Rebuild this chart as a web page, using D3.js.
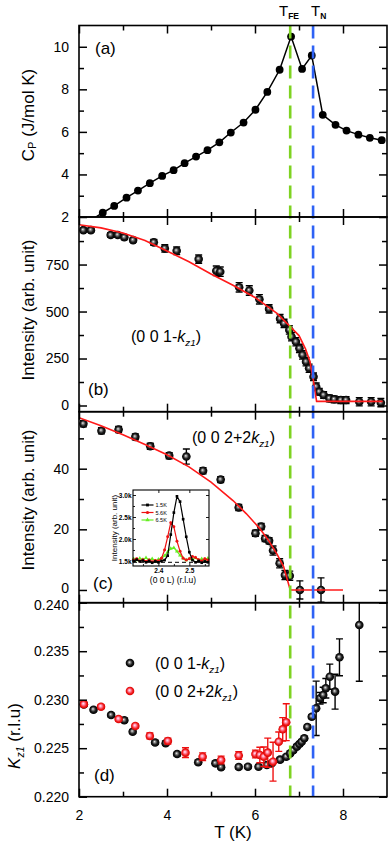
<!DOCTYPE html>
<html>
<head>
<meta charset="utf-8">
<script src="https://cdn.jsdelivr.net/npm/d3@7"></script>
<style>
  body { margin: 0; background: #fff; }
  svg { display: block; font-family: "Liberation Sans", Arial, sans-serif; }
</style>
</head>
<body>
<svg id="chart" width="388" height="844"></svg>
<script>
// ---- data ----
// (a) heat capacity
const cpT = [2.26, 2.54, 2.80, 3.08, 3.34, 3.61, 3.89, 4.15, 4.40, 4.66, 4.92, 5.19, 5.45, 5.74, 6.01, 6.28, 6.56, 6.82, 7.07, 7.29, 7.54, 7.83, 8.08, 8.35, 8.61, 8.88];
const cpVal = [1.84, 2.20, 2.52, 2.91, 3.24, 3.59, 3.93, 4.20, 4.53, 4.84, 5.14, 5.51, 5.97, 6.44, 7.04, 7.88, 8.92, 10.48, 8.96, 9.59, 6.80, 6.33, 6.06, 5.87, 5.72, 5.61];

// (b) (0 0 1-kz1) intensity
const bT = [2.10, 2.27, 2.72, 2.88, 3.03, 3.23, 3.70, 3.95, 4.22, 4.72, 5.12, 5.21, 5.64, 5.87, 6.10, 6.32, 6.57, 6.66, 6.78, 6.83, 6.93, 7.01, 7.08, 7.16, 7.23, 7.33, 7.39, 7.46, 7.56, 7.69, 7.80, 7.95, 8.07, 8.37, 8.64, 8.86];
const bI = [933, 933, 907, 907, 895, 880, 868, 836, 823, 779, 717, 712, 629, 612, 565, 514, 462, 437, 402, 366, 339, 304, 269, 233, 198, 153, 100, 73, 56, 38, 33, 29, 29, 20, 20, 15];
const bErr = [10, 10, 12, 12, 12, 12, 15, 20, 20, 22, 25, 25, 25, 25, 25, 22, 22, 22, 22, 22, 22, 22, 22, 22, 22, 20, 20, 18, 18, 18, 18, 18, 18, 22, 22, 22];
const bFitT = [2.0, 2.5, 3.0, 3.5, 4.0, 4.5, 5.0, 5.5, 6.0, 6.5, 6.8, 7.0, 7.15, 7.25, 7.33, 7.40, 8.9];
const bFitI = [962, 945, 918, 878, 822, 765, 700, 640, 575, 490, 420, 372, 300, 233, 130, 22, 22];

// (c) (0 0 2+2kz1) intensity
const cT = [2.10, 2.51, 2.90, 3.28, 3.62, 4.05, 4.44, 4.82, 5.22, 5.63, 6.01, 6.14, 6.23, 6.32, 6.41, 6.56, 6.68, 6.79, 7.02, 7.50];
const cI = [54.8, 52.5, 52.9, 50.5, 47.4, 44.3, 44.0, 39.3, 36.4, 27.2, 18.7, 20.9, 17.0, 16.2, 13.0, 8.8, 4.9, 4.7, 0, 0];
const cErr = [1, 1, 1, 1, 1, 1, 2.5, 1, 1, 1, 1, 1, 1, 1, 1.5, 1.5, 1.5, 1.5, 3, 4];
const cFitT = [2.0, 2.5, 3.0, 3.5, 4.0, 4.5, 5.0, 5.5, 5.8, 6.1, 6.3, 6.5, 6.65, 6.8, 8.0];
const cFitI = [56.8, 54.2, 51.2, 48.0, 44.6, 40.6, 35.6, 29.5, 25.2, 20.4, 16.5, 11.8, 7.7, 0, 0];

// (c) inset: scans along (0 0 L)
const insL = [2.32, 2.33, 2.34, 2.35, 2.36, 2.37, 2.38, 2.39, 2.40, 2.41, 2.42, 2.43, 2.44, 2.45, 2.46, 2.47, 2.48, 2.49, 2.50, 2.51, 2.52, 2.53, 2.54, 2.55, 2.56];
const ins15K = [1.50, 1.53, 1.49, 1.51, 1.47, 1.50, 1.46, 1.49, 1.47, 1.50, 1.52, 1.62, 2.10, 2.60, 2.97, 2.85, 2.45, 2.05, 1.70, 1.52, 1.47, 1.50, 1.46, 1.49, 1.47];
const ins56K = [1.52, 1.55, 1.50, 1.53, 1.49, 1.52, 1.48, 1.51, 1.50, 1.56, 1.75, 2.05, 2.37, 2.28, 1.95, 1.72, 1.56, 1.52, 1.55, 1.60, 1.58, 1.53, 1.50, 1.55, 1.52];
const ins65K = [1.55, 1.52, 1.56, 1.53, 1.57, 1.52, 1.55, 1.50, 1.54, 1.56, 1.62, 1.70, 1.78, 1.80, 1.72, 1.63, 1.56, 1.52, 1.55, 1.53, 1.57, 1.52, 1.55, 1.53, 1.56];
const insBase = 1.47;
const insLabels = ["1.5K", "5.6K", "6.5K"];

// (d) propagation vector kz1
const dkT = [2.11, 2.33, 2.73, 3.03, 3.22, 3.73, 3.97, 4.23, 4.71, 5.10, 5.23, 5.63, 5.84, 6.08, 6.27, 6.38, 6.57, 6.71, 6.80, 6.87, 6.95, 7.01, 7.06, 7.12, 7.19, 7.29, 7.39, 7.48, 7.55, 7.61, 7.70, 7.82, 7.92, 8.37];
const dkV = [0.22950, 0.22897, 0.22842, 0.22788, 0.22670, 0.22559, 0.22551, 0.22440, 0.22355, 0.22344, 0.22303, 0.22306, 0.22309, 0.22309, 0.22327, 0.22344, 0.22382, 0.22412, 0.22447, 0.22478, 0.22516, 0.22543, 0.22567, 0.22602, 0.22719, 0.22825, 0.22911, 0.23015, 0.23049, 0.23118, 0.23237, 0.23083, 0.23437, 0.23770];
const dkErr = [0.0002, 0.0002, 0.0002, 0.0002, 0.0002, 0.0002, 0.0002, 0.0002, 0.0002, 0.0002, 0.0002, 0.0002, 0.0002, 0.0002, 0.0002, 0.0002, 0.0002, 0.0002, 0.0002, 0.0002, 0.0002, 0.0002, 0.0002, 0.0002, 0.0002, 0.0002, 0.0028, 0.0006, 0.0008, 0.0010, 0.0013, 0.0018, 0.0019, 0.0058];
const drT = [2.11, 2.50, 2.90, 3.28, 3.61, 4.02, 4.42, 4.81, 5.23, 5.63, 6.01, 6.11, 6.20, 6.29, 6.41, 6.54, 6.63, 6.71];
const drV = [0.22953, 0.22928, 0.22801, 0.22729, 0.22626, 0.22574, 0.22454, 0.22412, 0.22378, 0.22425, 0.22440, 0.22430, 0.22412, 0.22454, 0.22361, 0.22567, 0.22695, 0.22768];
const drErr = [0.0002, 0.0002, 0.0002, 0.0002, 0.0003, 0.0003, 0.0005, 0.0004, 0.0004, 0.0004, 0.0004, 0.0008, 0.0010, 0.0015, 0.0020, 0.0010, 0.0012, 0.0019];

// transition temperatures
const tFE = 6.8;
const tN = 7.32;

// axis ticks
const xMajor = [2, 4, 6, 8];
const xMinor = [3, 5, 7];
const aMajor = [2, 4, 6, 8, 10], aMinor = [3, 5, 7, 9];
const bMajor = [0, 250, 500, 750], bMinor = [125, 375, 625, 875];
const cMajor = [0, 20, 40], cMinor = [10, 30, 50];
const dMajor = [0.220, 0.225, 0.230, 0.235, 0.240], dMinor = [0.2225, 0.2275, 0.2325, 0.2375];
const insYMajor = [1.5, 2.0, 2.5, 3.0], insYMinor = [1.75, 2.25, 2.75];
const insXMajor = [2.4, 2.5], insXMinor = [2.35, 2.45, 2.55];

// ---- drawing ----
const FONT = '"Liberation Sans", Arial, sans-serif';
const L = 79, R = 387;
const svg = d3.select("#chart");
const defs = svg.append("defs");

function gradient(id, stops) {
  const g = defs.append("radialGradient").attr("id", id)
    .attr("cx", "50%").attr("cy", "50%").attr("r", "50%")
    .attr("fx", "42%").attr("fy", "40%");
  stops.forEach(([o, c]) => g.append("stop").attr("offset", o).attr("stop-color", c));
}
gradient("ballK", [[0, "#f2f2f2"], [0.25, "#8a8a8a"], [0.6, "#1c1c1c"], [1, "#000"]]);
gradient("ballR", [[0, "#fff3f8"], [0.3, "#ff90b0"], [0.68, "#f42020"], [1, "#d40000"]]);

const x = d3.scaleLinear().domain([2, 9]).range([L, R]);

const panels = [
  { id: "a", top: 25.5, bottom: 217, domain: [2, 11], major: aMajor, minor: aMinor, fmt: d3.format("d") },
  { id: "b", top: 217, bottom: 411.7, domain: [-33, 1003], major: bMajor, minor: bMinor, fmt: d3.format("d") },
  { id: "c", top: 411.7, bottom: 602.7, domain: [-4.2, 58.8], major: cMajor, minor: cMinor, fmt: d3.format("d") },
  { id: "d", top: 602.7, bottom: 796.7, domain: [0.220, 0.240], major: dMajor, minor: dMinor, fmt: d3.format(".3f") },
];
panels.forEach((p) => {
  p.y = d3.scaleLinear().domain(p.domain).range([p.bottom, p.top]);
  defs.append("clipPath").attr("id", "clip-" + p.id)
    .append("rect").attr("x", L).attr("y", p.top).attr("width", R - L).attr("height", p.bottom - p.top);
  p.g = svg.append("g").attr("clip-path", `url(#clip-${p.id})`);
});
const [pa, pb, pc, pd] = panels;

function errorBars(g, T, V, E, y, color) {
  const eb = g.append("g").attr("stroke", color).attr("stroke-width", 1.4);
  T.forEach((t, i) => {
    const cx = x(t), y0 = y(V[i] - E[i]), y1 = y(V[i] + E[i]);
    eb.append("line").attr("x1", cx).attr("x2", cx).attr("y1", y0).attr("y2", y1);
    [y0, y1].forEach((yy) =>
      eb.append("line").attr("x1", cx - 3.5).attr("x2", cx + 3.5).attr("y1", yy).attr("y2", yy));
  });
}
function balls(g, T, V, y, fill, r = 4.3) {
  g.append("g").selectAll("circle").data(T).join("circle")
    .attr("cx", (d) => x(d)).attr("cy", (d, i) => y(V[i])).attr("r", r)
    .attr("fill", fill);
}
function fitLine(g, T, V, y) {
  g.append("path").datum(T)
    .attr("fill", "none").attr("stroke", "#ff1a1a").attr("stroke-width", 1.6)
    .attr("d", d3.line().x((d) => x(d)).y((d, i) => y(V[i])));
}

// (a)
pa.g.append("path").datum(cpT)
  .attr("fill", "none").attr("stroke", "#000").attr("stroke-width", 1.5)
  .attr("d", d3.line().x((d) => x(d)).y((d, i) => pa.y(cpVal[i])));
balls(pa.g, cpT, cpVal, pa.y, "#000", 3.9);

// (b)
errorBars(pb.g, bT, bI, bErr, pb.y, "#000");
balls(pb.g, bT, bI, pb.y, "url(#ballK)");
fitLine(pb.g, bFitT, bFitI, pb.y);

// (c)
errorBars(pc.g, cT, cI, cErr, pc.y, "#000");
balls(pc.g, cT, cI, pc.y, "url(#ballK)");
fitLine(pc.g, cFitT, cFitI, pc.y);

// (d)
errorBars(pd.g, dkT, dkV, dkErr, pd.y, "#000");
balls(pd.g, dkT, dkV, pd.y, "url(#ballK)");
errorBars(pd.g, drT, drV, drErr, pd.y, "#f01010");
balls(pd.g, drT, drV, pd.y, "url(#ballR)");

// dashed transition lines
[[tFE, "#7ed321"], [tN, "#2f62f5"]].forEach(([t, c]) => {
  svg.append("line").attr("x1", x(t)).attr("x2", x(t))
    .attr("y1", pa.top).attr("y2", pd.bottom)
    .attr("stroke", c).attr("stroke-width", 2.6).attr("stroke-dasharray", "13,7");
});

// axes & frame
panels.forEach((p, k) => {
  const g = svg.append("g");
  const last = k === panels.length - 1;
  g.append("g").attr("class", "yl").attr("transform", `translate(${L},0)`)
    .call(d3.axisLeft(p.y).tickValues(p.major).tickSize(-8).tickPadding(10).tickFormat(p.fmt));
  g.append("g").attr("transform", `translate(${L},0)`)
    .call(d3.axisLeft(p.y).tickValues(p.minor).tickSize(-5).tickFormat(""));
  g.append("g").attr("transform", `translate(${R},0)`)
    .call(d3.axisRight(p.y).tickValues(p.major).tickSize(-8).tickFormat(""));
  g.append("g").attr("transform", `translate(${R},0)`)
    .call(d3.axisRight(p.y).tickValues(p.minor).tickSize(-5).tickFormat(""));
  g.append("g").attr("transform", `translate(0,${p.bottom})`)
    .call(d3.axisBottom(x).tickValues(xMajor).tickSize(-8).tickPadding(13).tickFormat(last ? d3.format("d") : ""));
  g.append("g").attr("transform", `translate(0,${p.bottom})`)
    .call(d3.axisBottom(x).tickValues(xMinor).tickSize(-5).tickFormat(""));
  g.append("g").attr("transform", `translate(0,${p.top})`)
    .call(d3.axisTop(x).tickValues(xMajor).tickSize(-8).tickFormat(""));
  g.append("g").attr("transform", `translate(0,${p.top})`)
    .call(d3.axisTop(x).tickValues(xMinor).tickSize(-5).tickFormat(""));
  g.selectAll(".domain").remove();
  g.selectAll(".tick line").attr("stroke", "#000").attr("stroke-width", 1.5);
  g.selectAll(".tick text").attr("font-family", FONT).attr("font-size", 14).attr("fill", "#000");
  // labels sitting on the shared c/d border are nudged apart, as in the figure
  g.selectAll(".yl .tick text")
    .attr("y", (d) => (d === 0 && p.id === "c" ? -2 : d === 0.240 && p.id === "d" ? 2 : 0));
  g.append("rect").attr("x", L).attr("y", p.top).attr("width", R - L).attr("height", p.bottom - p.top)
    .attr("fill", "none").attr("stroke", "#000").attr("stroke-width", 1.6);
});

// ---- inset in (c) ----
const ix = d3.scaleLinear().domain([2.318, 2.5635]).range([133, 209]);
const iy = d3.scaleLinear().domain([1.386, 3.114]).range([566, 490]);
const ins = svg.append("g");
ins.append("rect").attr("x", 133).attr("y", 490).attr("width", 76).attr("height", 76).attr("fill", "#fff");
ins.append("line").attr("x1", 133).attr("x2", 209).attr("y1", iy(insBase)).attr("y2", iy(insBase))
  .attr("stroke", "#000").attr("stroke-width", 1).attr("stroke-dasharray", "4,3");
const insSeries = [
  { v: ins65K, c: "#66ee22", sym: d3.symbolTriangle },
  { v: ins56K, c: "#ee1111", sym: d3.symbolCircle },
  { v: ins15K, c: "#000", sym: d3.symbolSquare },
];
insSeries.forEach((s) => {
  ins.append("path").datum(insL).attr("fill", "none").attr("stroke", s.c).attr("stroke-width", 1.2)
    .attr("d", d3.line().x((d) => ix(d)).y((d, i) => iy(s.v[i])));
  ins.append("g").selectAll("path").data(insL).join("path")
    .attr("transform", (d, i) => `translate(${ix(d)},${iy(s.v[i])})`)
    .attr("d", d3.symbol(s.sym, 7)).attr("fill", s.c);
});
// inset legend (1.5K, 5.6K, 6.5K top to bottom)
insSeries.slice().reverse().forEach((s, i) => {
  const yy = 505 + i * 7.5;
  ins.append("line").attr("x1", 141.5).attr("x2", 153.5).attr("y1", yy).attr("y2", yy).attr("stroke", s.c).attr("stroke-width", 1.2);
  ins.append("path").attr("transform", `translate(147.5,${yy})`).attr("d", d3.symbol(s.sym, 8)).attr("fill", s.c);
  ins.append("text").attr("x", 155.5).attr("y", yy + 2).attr("font-size", 5.5).attr("font-family", FONT).text(insLabels[i]);
});
// inset axes
const ia = ins.append("g");
ia.append("g").attr("transform", "translate(133,0)")
  .call(d3.axisLeft(iy).tickValues(insYMajor).tickSize(-3).tickPadding(1.5).tickFormat((d) => d3.format(".1f")(d) + "k"));
ia.append("g").attr("transform", "translate(133,0)")
  .call(d3.axisLeft(iy).tickValues(insYMinor).tickSize(-2).tickFormat(""));
ia.append("g").attr("transform", "translate(209,0)")
  .call(d3.axisRight(iy).tickValues(insYMajor).tickSize(-3).tickFormat(""));
ia.append("g").attr("transform", "translate(0,566)")
  .call(d3.axisBottom(ix).tickValues(insXMajor).tickSize(-3).tickPadding(2.5).tickFormat(d3.format(".1f")));
ia.append("g").attr("transform", "translate(0,566)")
  .call(d3.axisBottom(ix).tickValues(insXMinor).tickSize(-2).tickFormat(""));
ia.append("g").attr("transform", "translate(0,490)")
  .call(d3.axisTop(ix).tickValues(insXMajor).tickSize(-3).tickFormat(""));
ia.selectAll(".domain").remove();
ia.selectAll(".tick line").attr("stroke", "#000").attr("stroke-width", 0.9);
ia.selectAll(".tick text").attr("font-family", FONT).attr("font-size", 6.5).attr("font-weight", "bold").attr("fill", "#000");
ins.append("rect").attr("x", 133).attr("y", 490).attr("width", 76).attr("height", 76)
  .attr("fill", "none").attr("stroke", "#000").attr("stroke-width", 1.1);
ins.append("text").attr("transform", "translate(116.5,528) rotate(-90)").attr("text-anchor", "middle")
  .attr("font-size", 8).attr("font-family", FONT).text("Intensity (arb. unit)");
ins.append("text").attr("x", 173).attr("y", 582.5).attr("text-anchor", "middle")
  .attr("font-size", 8.5).attr("font-family", FONT).text("(0 0 L) (r.l.u)");

// ---- texts ----
const txt = svg.append("g").attr("font-family", FONT).attr("fill", "#000");
function ytitle(bx, cy, build) {
  const t = txt.append("text").attr("transform", `translate(${bx},${cy}) rotate(-90)`)
    .attr("text-anchor", "middle").attr("font-size", 17);
  build(t);
}
ytitle(34, 115, (t) => {
  t.append("tspan").text("C");
  t.append("tspan").attr("font-size", 11).attr("dy", 2).text("P");
  t.append("tspan").attr("dy", -2).text(" (J/mol K)");
});
ytitle(34, 310, (t) => t.text("Intensity (arb. unit)"));
ytitle(34, 500, (t) => t.text("Intensity (arb. unit)"));
ytitle(20, 736, (t) => {
  t.append("tspan").attr("font-style", "italic").text("K");
  t.append("tspan").attr("font-size", 10.5).attr("font-style", "italic").attr("dy", 4).text("z1");
  t.append("tspan").attr("dy", -4).text(" (r.l.u)");
});
txt.append("text").attr("x", (L + R) / 2).attr("y", 838).attr("text-anchor", "middle")
  .attr("font-size", 17).text("T (K)");

// panel letters
[["(a)", 95, 54], ["(b)", 88, 395], ["(c)", 93, 589], ["(d)", 94, 781]].forEach(([s, px, py]) =>
  txt.append("text").attr("x", px).attr("y", py).attr("font-size", 17).text(s));

// reflection labels
function refl(g, px, py, pre, size = 16) {
  const t = g.append("text").attr("x", px).attr("y", py).attr("font-size", size);
  t.append("tspan").text(pre);
  t.append("tspan").attr("font-style", "italic").text("k");
  t.append("tspan").attr("font-style", "italic").attr("font-size", size * 0.62).attr("dy", 4).text("z1");
  t.append("tspan").attr("dy", -4).text(")");
}
refl(txt, 131, 342, "(0 0 1-");
refl(txt, 192, 443, "(0 0 2+2");

// legend in (d)
const leg = svg.append("g");
leg.append("circle").attr("cx", 130).attr("cy", 663).attr("r", 4.3).attr("fill", "url(#ballK)");
leg.append("circle").attr("cx", 130).attr("cy", 691).attr("r", 4.3).attr("fill", "url(#ballR)");
refl(txt, 155, 669, "(0 0 1-");
refl(txt, 155, 697, "(0 0 2+2");

// transition labels
function tLabel(px, sub) {
  const t = txt.append("text").attr("x", px).attr("y", 16).attr("font-size", 15);
  t.append("tspan").text("T");
  t.append("tspan").attr("font-size", 8.5).attr("font-weight", "bold").attr("dy", 2.5).text(sub);
}
tLabel(279, "FE");
tLabel(311, "N");
</script>
</body>
</html>
